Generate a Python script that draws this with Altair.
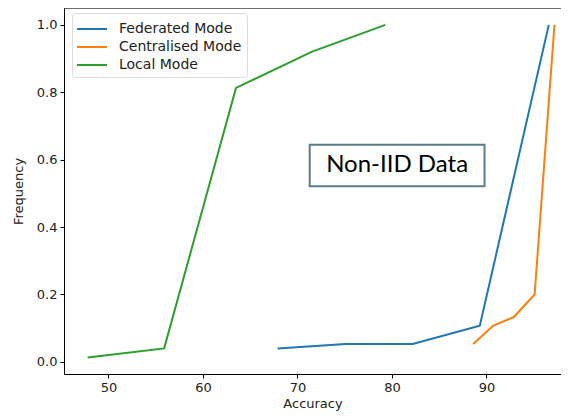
import altair as alt
import pandas as pd

series_names = ["Federated Mode", "Centralised Mode", "Local Mode"]
series_colors = ["#1f77b4", "#ff7f0e", "#2ca02c"]

fed_acc = [67.9, 75.1, 82.2, 89.3, 96.6]
fed_freq = [0.040, 0.053, 0.053, 0.107, 1.0]
cen_acc = [88.6, 90.7, 92.9, 95.1, 97.2]
cen_freq = [0.053, 0.107, 0.133, 0.200, 1.0]
loc_acc = [47.8, 55.9, 63.5, 71.5, 79.3]
loc_freq = [0.013, 0.040, 0.813, 0.920, 1.0]

x_ticks = [50, 60, 70, 80, 90]
y_ticks = [0.0, 0.2, 0.4, 0.6, 0.8, 1.0]

rows = []
for name, xs, ys in zip(series_names, [fed_acc, cen_acc, loc_acc], [fed_freq, cen_freq, loc_freq]):
    for i, (a, f) in enumerate(zip(xs, ys)):
        rows.append({"Mode": name, "Accuracy": a, "Frequency": f, "order": i})
df = pd.DataFrame(rows)

W, H = 497, 366
FONT = "DejaVu Sans"

xscale = alt.Scale(domain=[45.3, 45.3 + 497 / 9.45], nice=False, zero=False)
yscale = alt.Scale(domain=[-0.036, 1.05], nice=False, zero=False)

lines = alt.Chart(df).mark_line(strokeWidth=2).encode(
    x=alt.X("Accuracy:Q", scale=xscale,
            axis=alt.Axis(values=x_ticks, title="Accuracy", grid=False, tickSize=4,
                          domainColor="black", tickColor="black", labelColor="#222",
                          labelFontSize=13, titleFontSize=13, titleFontWeight="normal",
                          labelFont=FONT, titleFont=FONT, labelPadding=3, titlePadding=3,
                          titleColor="#222")),
    y=alt.Y("Frequency:Q", scale=yscale,
            axis=alt.Axis(values=y_ticks, format=".1f", title="Frequency", grid=False, tickSize=4,
                          domainColor="black", tickColor="black", labelColor="#222",
                          labelFontSize=13, titleFontSize=13, titleFontWeight="normal",
                          labelFont=FONT, titleFont=FONT, labelPadding=3, titlePadding=11,
                          titleColor="#222")),
    color=alt.Color("Mode:N", scale=alt.Scale(domain=series_names, range=series_colors),
                    sort=series_names,
                    legend=alt.Legend(title=None, orient="none", legendX=8, legendY=5,
                                      symbolType="M-1.5,0H1.5", symbolSize=400, symbolStrokeWidth=2,
                                      symbolOffset=4,
                                      labelFontSize=14, labelFont=FONT, labelColor="#222",
                                      rowPadding=0, padding=5, strokeColor="#dddddd",
                                      fillColor="white", cornerRadius=3, labelOffset=16)),
    order="order:Q",
)

top_rule = alt.Chart(pd.DataFrame({"k": [0]})).mark_rule(color="black", strokeWidth=1).encode(
    x=alt.value(0), x2=alt.value(W), y=alt.value(0)
)

box_df = pd.DataFrame({"x": [71.3], "x2": [89.8], "y": [0.644], "y2": [0.521],
                       "tx": [80.55], "ty": [0.583], "label": ["Non-IID Data"]})

box = alt.Chart(box_df).mark_rect(fill="white", stroke="#5b7b8c", strokeWidth=2).encode(
    x=alt.X("x:Q", scale=xscale), x2="x2:Q",
    y=alt.Y("y:Q", scale=yscale), y2="y2:Q",
)
box_text = alt.Chart(box_df).mark_text(font="Lato", fontSize=24, color="black",
                                       baseline="middle", align="center").encode(
    x=alt.X("tx:Q", scale=xscale), y=alt.Y("ty:Q", scale=yscale), text="label:N"
)

chart = alt.layer(lines, box, box_text, top_rule).properties(
    width=W, height=H,
    autosize=alt.AutoSizeParams(type="none"),
    padding={"left": 56, "top": 0, "right": 0, "bottom": 38},
).configure_view(stroke=None).configure(background="white")

chart.save("out.html", embed_options={"renderer": "svg", "actions": False})
